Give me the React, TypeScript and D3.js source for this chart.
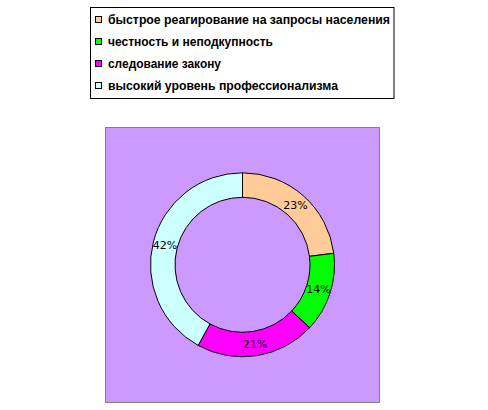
import React from "react";
import * as d3 from "d3";

const categories = [
  "быстрое реагирование на запросы населения",
  "честность и неподкупность",
  "следование закону",
  "высокий уровень профессионализма",
];
const values = [23, 14, 21, 42];
const colors = ["#FFCC99", "#00FF00", "#FF00FF", "#CCFFFF"];
const legendWidths = [282, 165, 113, 230];

export default function App() {
  const W = 488, H = 410;
  const cx = 242.5, cy = 264.8;
  const outerR = 92, innerR = 67.5, labelR = 80;
  const pie = d3.pie<number>().sort(null).value((d) => d)(values);
  const arc = d3.arc<d3.PieArcDatum<number>>().innerRadius(innerR).outerRadius(outerR);
  const labelArc = d3.arc<d3.PieArcDatum<number>>().innerRadius(labelR).outerRadius(labelR);
  const total = d3.sum(values);
  const legendY = d3.scaleBand<number>().domain(d3.range(categories.length)).range([9, 97]);

  return (
    <svg width={W} height={H} style={{ position: "absolute", left: 0, top: 0 }}>
      <rect x={0} y={0} width={W} height={H} fill="#fff" />
      <rect x={90.5} y={7.5} width={303.5} height={91} fill="#fff" stroke="#000" strokeWidth={1} />
      {categories.map((c, i) => {
        const y = legendY(i)! + legendY.bandwidth() / 2;
        return (
          <g key={c}>
            <rect x={95.5} y={y - 3.5} width={6} height={6} fill={colors[i]} stroke="#000" strokeWidth={1} />
            <text
              x={108}
              y={y + 4}
              fontFamily="'Liberation Sans', Arial, sans-serif"
              fontWeight="bold"
              fontSize={12}
              textLength={legendWidths[i]}
              lengthAdjust="spacingAndGlyphs"
              fill="#000"
            >
              {c}
            </text>
          </g>
        );
      })}
      <rect x={105.5} y={127.5} width={274} height={275} fill="#CC99FF" stroke="#808080" strokeWidth={1} />
      <g transform={`translate(${cx},${cy})`}>
        {pie.map((p, i) => (
          <path key={i} d={arc(p)!} fill={colors[i]} stroke="#000" strokeWidth={1} />
        ))}
        {pie.map((p, i) => {
          const [lx, ly] = labelArc.centroid(p);
          return (
            <text key={i} x={lx} y={ly} dy="0.35em" textAnchor="middle" fontFamily="'DejaVu Sans', Verdana, sans-serif" fontSize={11} fill="#000">
              {Math.round((values[i] / total) * 100)}%
            </text>
          );
        })}
      </g>
    </svg>
  );
}
